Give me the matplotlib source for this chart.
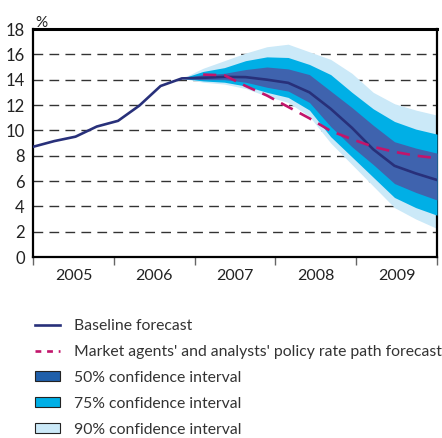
import numpy as np
import matplotlib
matplotlib.use('Agg')
import matplotlib.pyplot as plt
from matplotlib.lines import Line2D
from matplotlib.patches import Patch

plt.rcParams['font.family'] = ['Lato', 'DejaVu Sans']

# quarterly points, 2005Q1 .. 2009Q4
years = ['2005', '2006', '2007', '2008', '2009']
baseline = [8.7, 9.15, 9.5, 10.3, 10.75, 11.95, 13.5, 14.1,
            14.15, 14.22, 14.2, 14.0, 13.75, 13.0, 11.7, 10.2, 8.5, 7.2, 6.6, 6.08]
market = [14.4, 14.35, 13.5, 12.75, 11.85, 10.95, 9.95, 9.3, 8.7, 8.3, 8.0, 7.8]
# fan bands start at 2006Q4 (index 7)
ci90_hi = [14.1, 14.9, 15.5, 16.1, 16.6, 16.8, 16.2, 15.6, 14.5, 13.0, 12.1, 11.6, 11.2]
ci75_hi = [14.1, 14.65, 14.95, 15.5, 15.8, 15.75, 15.2, 14.4, 13.0, 11.7, 10.7, 10.1, 9.7]
ci50_hi = [14.1, 14.4, 14.5, 14.8, 15.0, 14.85, 14.4, 13.1, 11.8, 10.4, 9.1, 8.6, 8.2]
ci50_lo = [14.1, 14.0, 14.0, 13.8, 13.4, 13.1, 12.2, 10.3, 8.7, 7.3, 5.8, 5.1, 4.5]
ci75_lo = [14.1, 13.9, 13.8, 13.5, 13.0, 12.6, 11.6, 9.5, 7.9, 6.3, 4.7, 3.9, 3.3]
ci90_lo = [14.1, 13.8, 13.65, 13.3, 12.7, 12.2, 11.1, 9.0, 7.3, 5.6, 3.9, 3.0, 2.25]

c_base = '#28307a'
c_mkt = '#c2156b'
c50 = '#3f63ae'
c75 = '#00afe6'
c90 = '#cbe9f8'

x = np.arange(len(baseline))
xf = np.arange(7, len(baseline))
xm = np.arange(8, len(baseline))

fig = plt.figure(figsize=(4.42, 4.38), dpi=100)
ax = fig.add_axes([33/442, 1-257/438, 404/442, 228/438])

for yv in range(2, 18, 2):
    ax.axhline(yv, color='#333333', lw=1, dashes=(7, 4.5), zorder=1)

ax.fill_between(xf, ci90_lo, ci90_hi, color=c90, lw=0, zorder=2)
ax.fill_between(xf, ci75_lo, ci75_hi, color=c75, lw=0, zorder=3)
ax.fill_between(xf, ci50_lo, ci50_hi, color=c50, lw=0, zorder=4)
ax.plot(x, baseline, color=c_base, lw=1.9, zorder=5)
ax.plot(xm, market, color=c_mkt, lw=1.9, dashes=(5, 3), zorder=6)

ax.set_xlim(0, 19)
ax.set_ylim(0, 18)
ax.set_yticks(range(0, 19, 2))
ax.tick_params(axis='y', length=0, pad=6, labelsize=12, labelcolor='#222222')

edges = np.linspace(0, 19, 6)
ax.set_xticks(edges)
ax.set_xticklabels([])
ax.set_xticks((edges[:-1] + edges[1:]) / 2, minor=True)
ax.set_xticklabels(years, minor=True)
ax.tick_params(axis='x', which='major', length=6, width=1, color='#666666')
ax.tick_params(axis='x', which='minor', length=0, pad=9, labelsize=11.5, labelcolor='#222222')

for side in ['left', 'bottom', 'right']:
    ax.spines[side].set_linewidth(1.6)
ax.spines['top'].set_linewidth(2.2)

fig.text(35/442, 1-27/438, '%', fontsize=11, color='#222222', ha='left', va='baseline')

handles = [
    Line2D([], [], color=c_base, lw=1.9),
    Line2D([], [], color=c_mkt, lw=1.9, dashes=(2.2, 2.2)),
    Patch(facecolor='#1f5faa', edgecolor='#222222', lw=0.8),
    Patch(facecolor=c75, edgecolor='#222222', lw=0.8),
    Patch(facecolor=c90, edgecolor='#222222', lw=0.8),
]
labels = ['Baseline forecast',
          "Market agents' and analysts' policy rate path forecast",
          '50% confidence interval',
          '75% confidence interval',
          '90% confidence interval']
leg = fig.legend(handles, labels, loc='upper left', bbox_to_anchor=(35/442, 1-319/438),
                 frameon=False, fontsize=11.3, handlelength=1.6, handleheight=0.6,
                 handletextpad=0.9, labelspacing=0.76, borderpad=0, borderaxespad=0)
for t in leg.get_texts():
    t.set_color('#333333')

fig.savefig('out.png', dpi=100)
